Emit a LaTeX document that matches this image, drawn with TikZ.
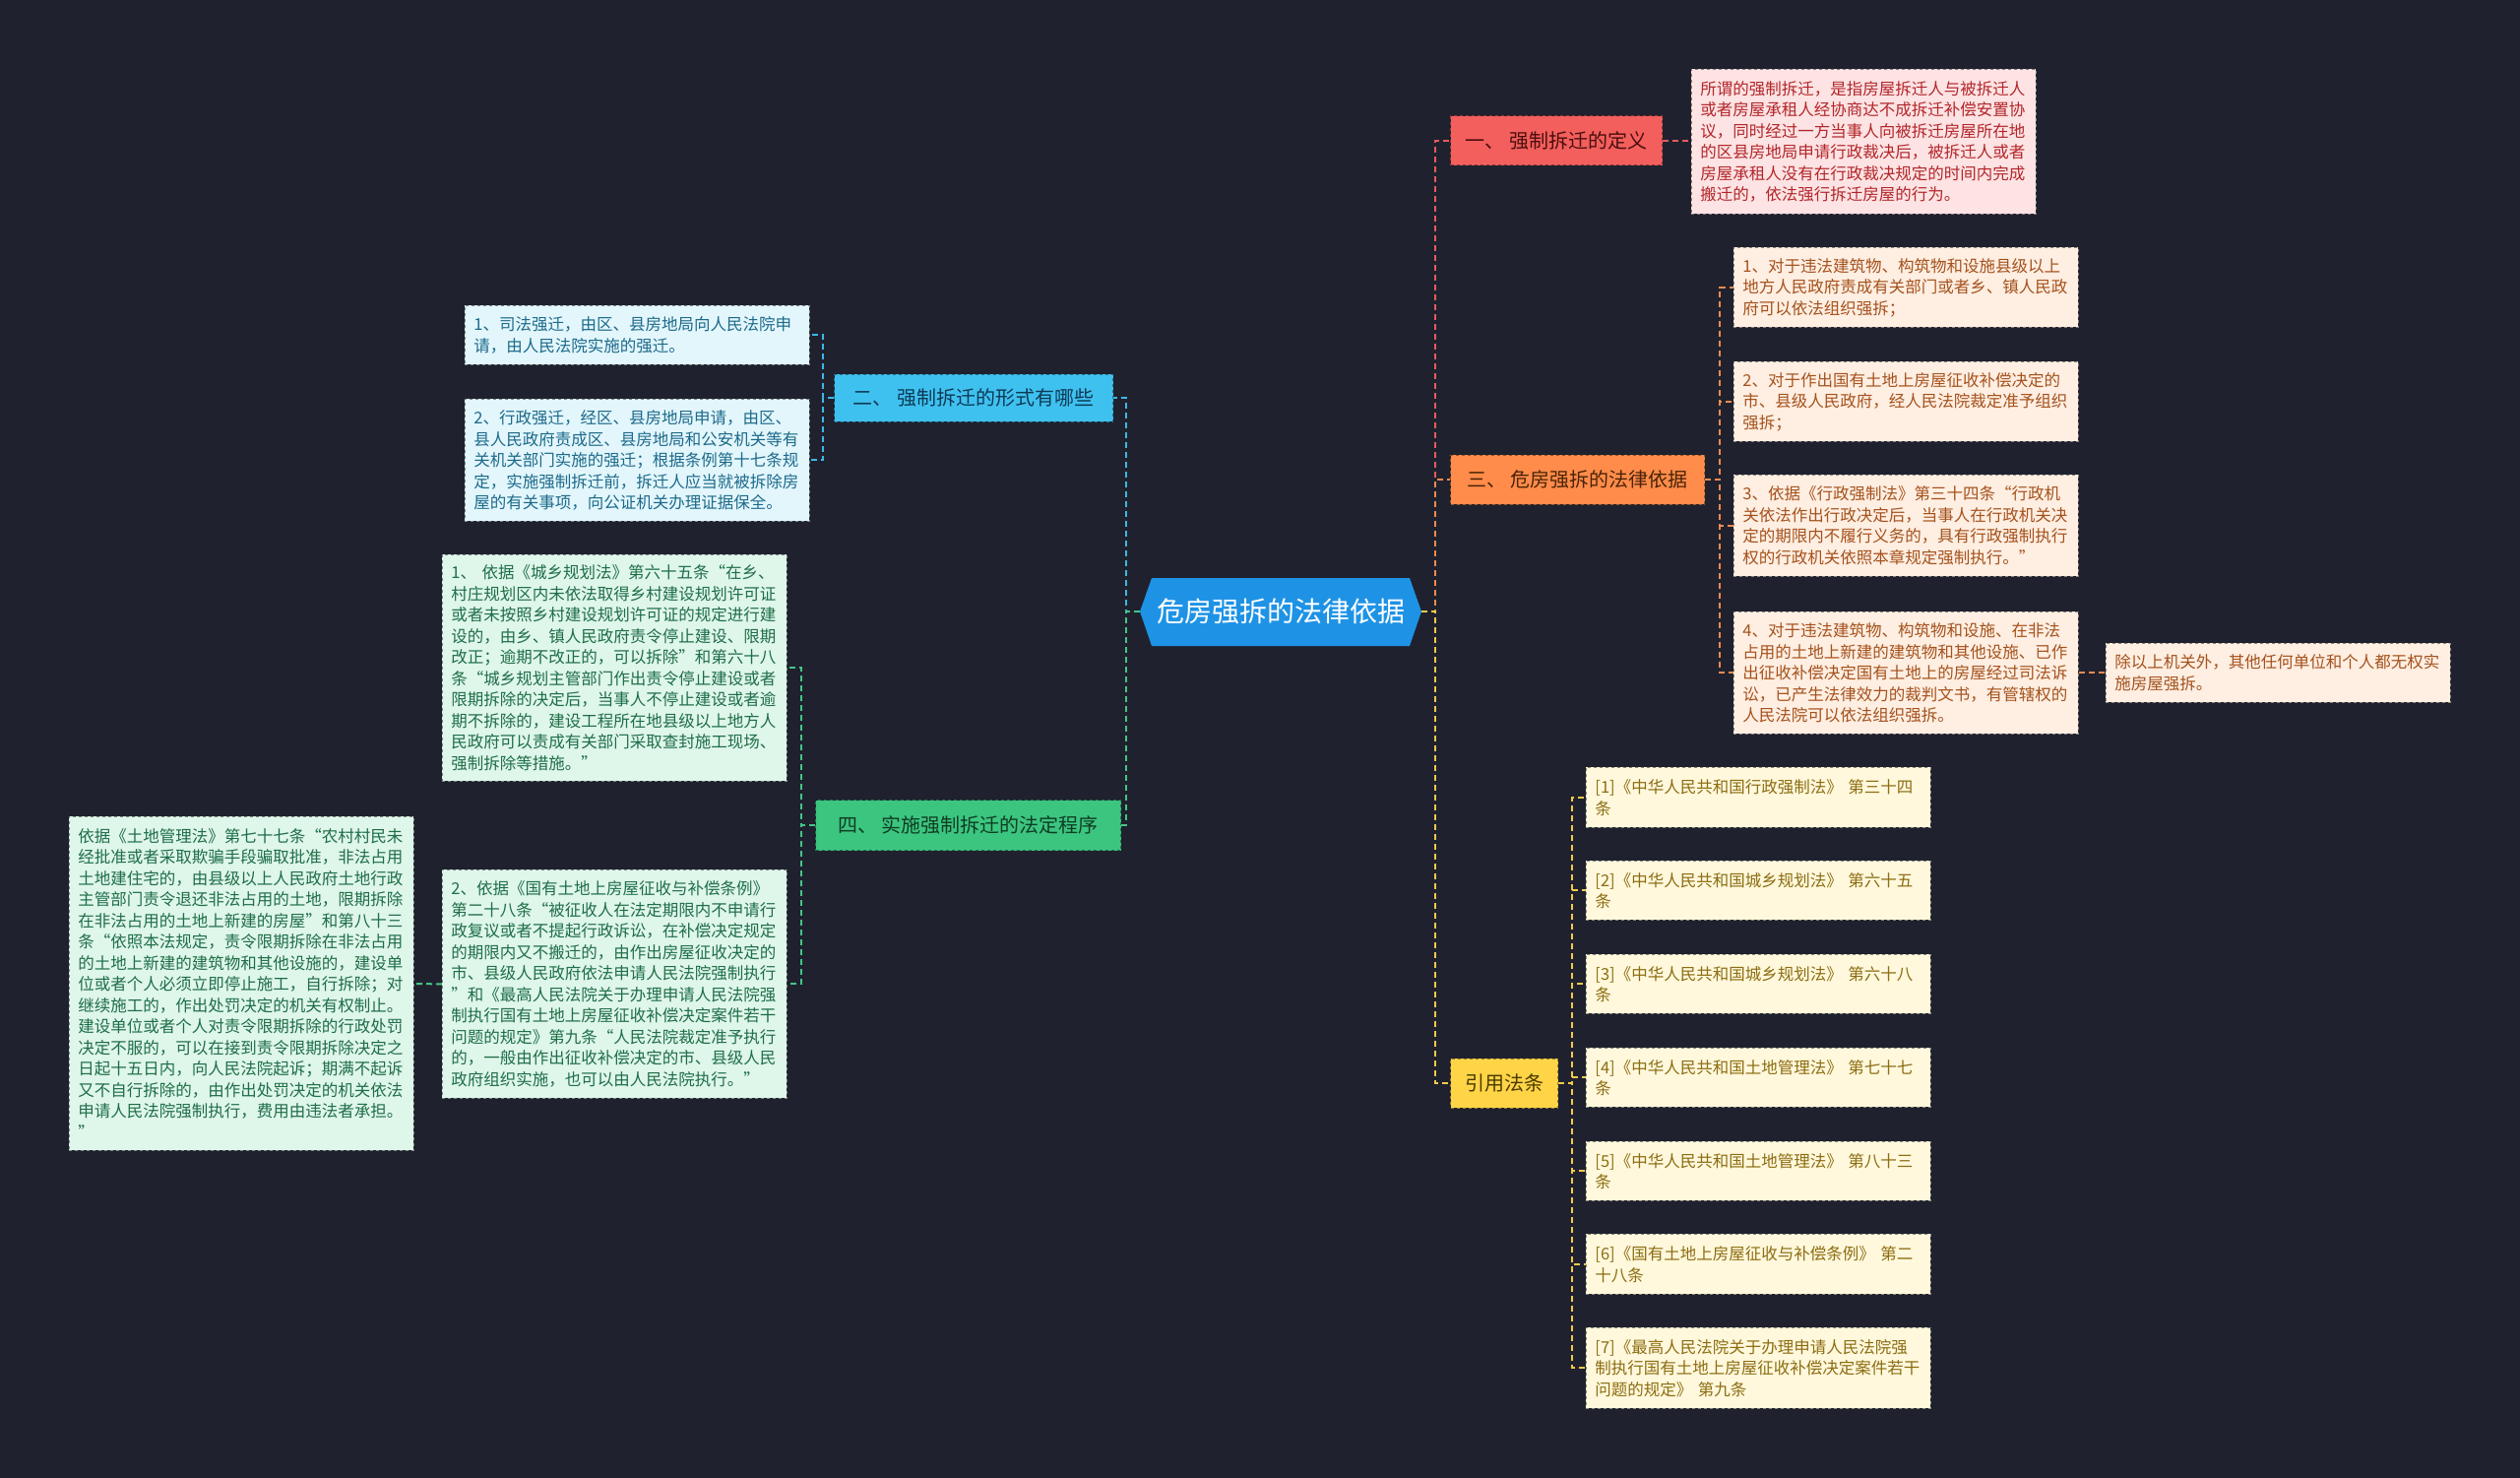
\documentclass[tikz,border=0pt]{standalone}
\usepackage{fontspec}
\setmainfont{Noto Sans CJK SC}
\usetikzlibrary{calc}
\definecolor{bgc}{HTML}{1F222E}
\definecolor{rootc}{HTML}{1E93E6}
\definecolor{rF}{HTML}{F25F5C}\definecolor{rT}{HTML}{4A0E0E}
\definecolor{rLF}{HTML}{FDE3E3}\definecolor{rLT}{HTML}{B3262B}\definecolor{rC}{HTML}{E85A5C}
\definecolor{oF}{HTML}{FF8C4A}\definecolor{oT}{HTML}{4A2308}
\definecolor{oLF}{HTML}{FFEEE2}\definecolor{oLT}{HTML}{A4521C}\definecolor{oC}{HTML}{F08A50}
\definecolor{yF}{HTML}{FFD447}\definecolor{yT}{HTML}{4A3A00}
\definecolor{yLF}{HTML}{FFF8DC}\definecolor{yLT}{HTML}{8C6D12}\definecolor{yC}{HTML}{F2C94C}
\definecolor{bF}{HTML}{3FC1F0}\definecolor{bT}{HTML}{0E3A55}
\definecolor{bLF}{HTML}{E2F6FC}\definecolor{bLT}{HTML}{1D6A8A}\definecolor{bC}{HTML}{3DB8E6}
\definecolor{gF}{HTML}{3CC57F}\definecolor{gT}{HTML}{0E3D24}
\definecolor{gLF}{HTML}{DFF6EA}\definecolor{gLT}{HTML}{1E6E48}\definecolor{gC}{HTML}{45C487}
\pgfdeclarelayer{bg}\pgfdeclarelayer{lines}\pgfsetlayers{bg,lines,main}
\begin{document}
\begin{tikzpicture}[x=1pt,y=-1pt,
  conn/.style={line width=2pt, dash pattern=on 6pt off 4pt},
  lone/.style={draw, dashed, line width=1pt, minimum height=50pt, inner xsep=12pt, inner ysep=0pt, anchor=west, font=\fontsize{20}{24}\selectfont},
  leaf/.style={draw, dashed, line width=0.9pt, anchor=north west, inner xsep=9pt, inner ysep=0pt, text width=332pt, minimum width=350pt, align=left, font=\fontsize{16.5}{21.5}\selectfont},
  leafR/.style={leaf, fill=rLF, text=rLT, draw=rLF!55!black},
  leafO/.style={leaf, fill=oLF, text=oLT, draw=oLF!55!black},
  leafY/.style={leaf, fill=yLF, text=yLT, draw=yLF!55!black},
  leafB/.style={leaf, fill=bLF, text=bLT, draw=bLF!55!black},
  leafG/.style={leaf, fill=gLF, text=gLT, draw=gLF!55!black}
]
\begin{pgfonlayer}{bg}
\fill[bgc] (0,0) rectangle (2560,1501);
\end{pgfonlayer}
\useasboundingbox (0,0) rectangle (2560,1501);

% root
\fill[rootc] (1158,621) -- (1170,587) -- (1432,587) -- (1444,621) -- (1432,656) -- (1170,656) -- cycle;
\node[text=white, minimum width=286pt, minimum height=69pt, inner sep=0pt, font=\fontsize{28}{32}\selectfont] (root) at (1301,621) {危房强拆的法律依据};

% level one
\node[lone, fill=rF, text=rT, draw=rF!60!black, minimum width=215pt] (n1) at (1473,143) {一、 强制拆迁的定义};
\node[lone, fill=oF, text=oT, draw=oF!60!black, minimum width=258pt] (n3) at (1473,487) {三、 危房强拆的法律依据};
\node[lone, fill=yF, text=yT, draw=yF!60!black, minimum width=109pt] (n5) at (1473,1100) {引用法条};
\node[lone, fill=bF, text=bT, draw=bF!60!black, minimum width=283pt, minimum height=48pt] (n2) at (847,404) {二、 强制拆迁的形式有哪些};
\node[lone, fill=gF, text=gT, draw=gF!60!black, minimum width=310pt, minimum height=51pt] (n4) at (828,838) {四、 实施强制拆迁的法定程序};

% leaves: red
\node[leafR, minimum height=147pt] (def) at (1718,70) {所谓的强制拆迁，是指房屋拆迁人与被拆迁人\\或者房屋承租人经协商达不成拆迁补偿安置协\\议，同时经过一方当事人向被拆迁房屋所在地\\的区县房地局申请行政裁决后，被拆迁人或者\\房屋承租人没有在行政裁决规定的时间内完成\\搬迁的，依法强行拆迁房屋的行为。};

% leaves: orange
\node[leafO, minimum height=81pt] (o1) at (1761,251) {1、对于违法建筑物、构筑物和设施县级以上\\地方人民政府责成有关部门或者乡、镇人民政\\府可以依法组织强拆；};
\node[leafO, minimum height=81pt] (o2) at (1761,367) {2、对于作出国有土地上房屋征收补偿决定的\\市、县级人民政府，经人民法院裁定准予组织\\强拆；};
\node[leafO, minimum height=103pt] (o3) at (1761,482) {3、依据《行政强制法》第三十四条“行政机\\关依法作出行政决定后，当事人在行政机关决\\定的期限内不履行义务的，具有行政强制执行\\权的行政机关依照本章规定强制执行。”};
\node[leafO, minimum height=124pt] (o4) at (1761,621) {4、对于违法建筑物、构筑物和设施、在非法\\占用的土地上新建的建筑物和其他设施、已作\\出征收补偿决定国有土地上的房屋经过司法诉\\讼，已产生法律效力的裁判文书，有管辖权的\\人民法院可以依法组织强拆。};
\node[leafO, minimum height=60pt] (o5) at (2139,653) {除以上机关外，其他任何单位和个人都无权实\\施房屋强拆。};

% leaves: yellow
\node[leafY, minimum height=61pt] (y1) at (1611,779) {[1]《中华人民共和国行政强制法》 第三十四\\条};
\node[leafY, minimum height=60pt] (y2) at (1611,874) {[2]《中华人民共和国城乡规划法》 第六十五\\条};
\node[leafY, minimum height=60pt] (y3) at (1611,969) {[3]《中华人民共和国城乡规划法》 第六十八\\条};
\node[leafY, minimum height=60pt] (y4) at (1611,1064) {[4]《中华人民共和国土地管理法》 第七十七\\条};
\node[leafY, minimum height=60pt] (y5) at (1611,1159) {[5]《中华人民共和国土地管理法》 第八十三\\条};
\node[leafY, minimum height=61pt] (y6) at (1611,1253) {[6]《国有土地上房屋征收与补偿条例》 第二\\十八条};
\node[leafY, minimum height=82pt] (y7) at (1611,1348) {[7]《最高人民法院关于办理申请人民法院强\\制执行国有土地上房屋征收补偿决定案件若干\\问题的规定》 第九条};

% leaves: blue
\node[leafB, minimum height=60pt] (b1) at (472,310) {1、司法强迁，由区、县房地局向人民法院申\\请，由人民法院实施的强迁。};
\node[leafB, minimum height=124pt] (b2) at (472,405) {2、行政强迁，经区、县房地局申请，由区、\\县人民政府责成区、县房地局和公安机关等有\\关机关部门实施的强迁；根据条例第十七条规\\定，实施强制拆迁前，拆迁人应当就被拆除房\\屋的有关事项，向公证机关办理证据保全。};

% leaves: green
\node[leafG, minimum height=230pt] (g1) at (449,563) {1、 依据《城乡规划法》第六十五条“在乡、\\村庄规划区内未依法取得乡村建设规划许可证\\或者未按照乡村建设规划许可证的规定进行建\\设的，由乡、镇人民政府责令停止建设、限期\\改正；逾期不改正的，可以拆除”和第六十八\\条“城乡规划主管部门作出责令停止建设或者\\限期拆除的决定后，当事人不停止建设或者逾\\期不拆除的，建设工程所在地县级以上地方人\\民政府可以责成有关部门采取查封施工现场、\\强制拆除等措施。”};
\node[leafG, minimum height=232pt] (g2) at (449,883) {2、依据《国有土地上房屋征收与补偿条例》\\第二十八条“被征收人在法定期限内不申请行\\政复议或者不提起行政诉讼，在补偿决定规定\\的期限内又不搬迁的，由作出房屋征收决定的\\市、县级人民政府依法申请人民法院强制执行\\”和《最高人民法院关于办理申请人民法院强\\制执行国有土地上房屋征收补偿决定案件若干\\问题的规定》第九条“人民法院裁定准予执行\\的，一般由作出征收补偿决定的市、县级人民\\政府组织实施，也可以由人民法院执行。”};
\node[leafG, minimum height=339pt] (g3) at (70,829) {依据《土地管理法》第七十七条“农村村民未\\经批准或者采取欺骗手段骗取批准，非法占用\\土地建住宅的，由县级以上人民政府土地行政\\主管部门责令退还非法占用的土地，限期拆除\\在非法占用的土地上新建的房屋”和第八十三\\条“依照本法规定，责令限期拆除在非法占用\\的土地上新建的建筑物和其他设施的，建设单\\位或者个人必须立即停止施工，自行拆除；对\\继续施工的，作出处罚决定的机关有权制止。\\建设单位或者个人对责令限期拆除的行政处罚\\决定不服的，可以在接到责令限期拆除决定之\\日起十五日内，向人民法院起诉；期满不起诉\\又不自行拆除的，由作出处罚决定的机关依法\\申请人民法院强制执行，费用由违法者承担。\\”};

% connectors
\begin{pgfonlayer}{lines}
\draw[conn, rC] (root.east) -- ++(14,0) |- (n1.west);
\draw[conn, oC] (root.east) -- ++(14,0) |- (n3.west);
\draw[conn, yC] (root.east) -- ++(14,0) |- (n5.west);
\draw[conn, bC] (root.west) -- ++(-14,0) |- (n2.east);
\draw[conn, gC] (root.west) -- ++(-14,0) |- (n4.east);
\draw[conn, rC] (n1.east) -- (n1.east -| def.west);
\foreach \c in {o1,o2,o3,o4} \draw[conn, oC] (n3.east) -- ++(15,0) |- (\c.west);
\draw[conn, oC] (o4.east |- o5.west) -- (o5.west);
\foreach \c in {y1,y2,y3,y4,y5,y6,y7} \draw[conn, yC] (n5.east) -- ++(14,0) |- (\c.west);
\foreach \c in {b1,b2} \draw[conn, bC] (n2.west) -- ++(-11,0) |- (\c.east);
\foreach \c in {g1,g2} \draw[conn, gC] (n4.west) -- ++(-14,0) |- (\c.east);
\draw[conn, gC] (g2.west) -- (g3.east);
\end{pgfonlayer}
\end{tikzpicture}
\end{document}
